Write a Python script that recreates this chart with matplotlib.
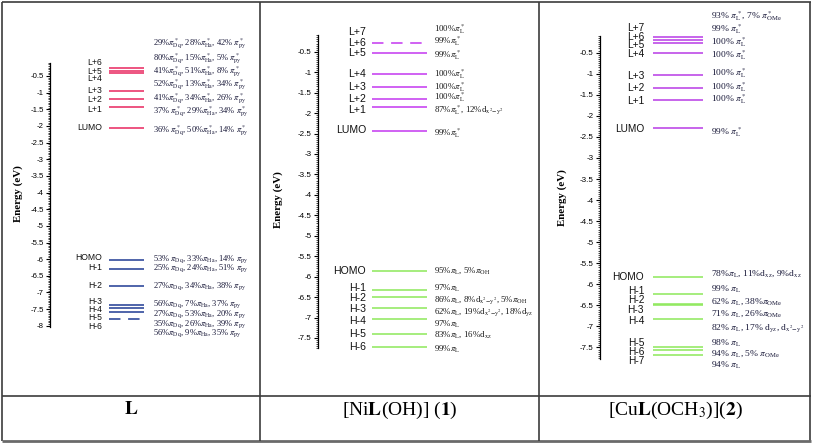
import matplotlib
matplotlib.use("Agg")
import matplotlib.pyplot as plt
from matplotlib.lines import Line2D
from matplotlib.ticker import FixedLocator, FixedFormatter
import numpy as np

plt.rcParams["font.family"] = "sans-serif"
plt.rcParams["font.sans-serif"] = ["Liberation Sans"]
plt.rcParams["mathtext.fontset"] = "stix"

# ---------------- data ----------------
# Ligand L
L_up_names = ["LUMO", "L+1", "L+2", "L+3", "L+4", "L+5", "L+6"]
L_up_E = [-2.05, -1.44, -1.20, -0.94, -0.41, -0.35, -0.27]
L_lo_names = ["HOMO", "H-1", "H-2", "H-3", "H-4", "H-5", "H-6"]
L_lo_E = [-6.03, -6.29, -6.81, -7.37, -7.47, -7.59, -7.79]
L_up_comp = [
    r"36% $\pi^*_{\rm Dq}$, 50%$\pi^*_{\rm Ha}$, 14% $\pi^*_{\rm py}$",
    r"37% $\pi^*_{\rm Dq}$, 29%$\pi^*_{\rm Ha}$, 34% $\pi^*_{\rm py}$",
    r"41%$\pi^*_{\rm Dq}$, 34%$\pi^*_{\rm Ha}$, 26% $\pi^*_{\rm py}$",
    r"52%$\pi^*_{\rm Dq}$, 13%$\pi^*_{\rm Ha}$, 34% $\pi^*_{\rm py}$",
    r"41%$\pi^*_{\rm Dq}$, 51%$\pi^*_{\rm Ha}$, 8% $\pi^*_{\rm py}$",
    r"80%$\pi^*_{\rm Dq}$, 15%$\pi^*_{\rm Ha}$, 5% $\pi^*_{\rm py}$",
    r"29%$\pi^*_{\rm Dq}$, 28%$\pi^*_{\rm Ha}$, 42% $\pi^*_{\rm py}$",
]
L_lo_comp = [
    r"53% $\pi_{\rm Dq}$, 33%$\pi_{\rm Ha}$, 14% $\pi_{\rm py}$",
    r"25% $\pi_{\rm Dq}$, 24%$\pi_{\rm Ha}$, 51% $\pi_{\rm py}$",
    r"27%$\pi_{\rm Dq}$, 34%$\pi_{\rm Ha}$, 38% $\pi_{\rm py}$",
    r"56%$\pi_{\rm Dq}$, 7%$\pi_{\rm Ha}$, 37% $\pi_{\rm py}$",
    r"27%$\pi_{\rm Dq}$, 53%$\pi_{\rm Ha}$, 20% $\pi_{\rm py}$",
    r"35%$\pi_{\rm Dq}$, 26%$\pi_{\rm Ha}$, 39% $\pi_{\rm py}$",
    r"56%$\pi_{\rm Dq}$, 9%$\pi_{\rm Ha}$, 35% $\pi_{\rm py}$",
]

# [NiL(OH)] (1)
Ni_up_names = ["LUMO", "L+1", "L+2", "L+3", "L+4", "L+5", "L+6", "L+7"]
Ni_up_E = [-2.43, -1.85, -1.66, -1.37, -1.05, -0.52, -0.28, None]
Ni_lo_names = ["HOMO", "H-1", "H-2", "H-3", "H-4", "H-5", "H-6"]
Ni_lo_E = [-5.85, -6.33, -6.49, -6.77, -7.04, -7.39, -7.71]
Ni_up_comp = [
    r"99%$\pi_{\rm L}^*$",
    r"87%$\pi_{\rm L}^*$, 12%d$_{\rm x^2\!-\!y^2}$",
    r"100%$\pi_{\rm L}^*$",
    r"100%$\pi_{\rm L}^*$",
    r"100%$\pi_{\rm L}^*$",
    r"99%$\pi_{\rm L}^*$",
    r"99%$\pi_{\rm L}^*$",
    r"100%$\pi_{\rm L}^*$",
]
Ni_lo_comp = [
    r"95%$\pi_{\rm L}$, 5%$\pi_{\rm OH}$",
    r"97%$\pi_{\rm L}$",
    r"86%$\pi_{\rm L}$, 8%d$_{\rm x^2\!-\!y^2}$, 5%$\pi_{\rm OH}$",
    r"62%$\pi_{\rm L}$, 19%d$_{\rm x^2\!-\!y^2}$, 18%d$_{\rm yz}$",
    r"97%$\pi_{\rm L}$",
    r"83%$\pi_{\rm L}$, 16%d$_{\rm xz}$",
    r"99%$\pi_{\rm L}$",
]

# [CuL(OCH3)](2)
Cu_up_names = ["LUMO", "L+1", "L+2", "L+3", "L+4", "L+5", "L+6", "L+7"]
Cu_up_E = [-2.30, -1.62, -1.34, -1.04, -0.50, -0.27, -0.20, -0.12]
Cu_lo_names = ["HOMO", "H-1", "H-2", "H-3", "H-4", "H-5", "H-6", "H-7"]
Cu_lo_E = [-5.83, -6.22, -6.46, -6.50, -6.83, -7.48, -7.57, -7.69]
Cu_up_comp = [
    r"99% $\pi_{\rm L}^*$",
    r"100% $\pi_{\rm L}^*$",
    r"100% $\pi_{\rm L}^*$",
    r"100% $\pi_{\rm L}^*$",
    r"100% $\pi_{\rm L}^*$",
    r"100% $\pi_{\rm L}^*$",
    r"99% $\pi_{\rm L}^*$",
    r"93% $\pi_{\rm L}^*$, 7% $\pi^*_{\rm OMe}$",
]
Cu_lo_comp = [
    r"78%$\pi_{\rm L}$, 11%d$_{\rm xz}$, 9%d$_{\rm xz}$",
    r"99% $\pi_{\rm L}$",
    r"62% $\pi_{\rm L}$, 38%$\pi_{\rm OMe}$",
    r"71% $\pi_{\rm L}$, 26%$\pi_{\rm OMe}$",
    r"82% $\pi_{\rm L}$, 17% d$_{\rm yz}$, d$_{\rm x^2\!-\!y^2}$",
    r"98% $\pi_{\rm L}$",
    r"94% $\pi_{\rm L}$, 5% $\pi_{\rm OMe}$",
    r"94% $\pi_{\rm L}$",
]

titles = [r"$\mathbf{L}$", r"[Ni$\mathbf{L}$(OH)] ($\mathbf{1}$)",
          r"[Cu$\mathbf{L}$(OCH$_3$)]($\mathbf{2}$)"]

# ---------------- layout (label / text positions, eV) ----------------
L_up_lab = [-2.06, -1.52, -1.22, -0.94, -0.59, -0.35, -0.10]
L_lo_lab = [-5.96, -6.24, -6.78, -7.28, -7.52, -7.75, -8.02]
L_up_txt = [-2.15, -1.57, -1.17, -0.77, -0.37, 0.03, 0.48]
L_lo_txt = [-6.00, -6.28, -6.80, -7.36, -7.66, -7.95, -8.23]

Ni_up_lab = [-2.41, -1.93, -1.66, -1.36, -1.05, -0.53, -0.28, -0.01]
Ni_lo_lab = [-5.85, -6.27, -6.52, -6.79, -7.08, -7.40, -7.73]
Ni_up_txt = [-2.48, -1.93, -1.62, -1.36, -1.05, -0.58, -0.24, 0.055]
Ni_lo_txt = [-5.85, -6.28, -6.57, -6.86, -7.16, -7.43, -7.77]

Cu_up_lab = [-2.31, -1.64, -1.34, -1.05, -0.54, -0.32, -0.13, 0.08]
Cu_lo_lab = [-5.82, -6.15, -6.37, -6.61, -6.87, -7.40, -7.60, -7.82]
Cu_up_txt = [-2.38, -1.61, -1.32, -0.975, -0.55, -0.26, 0.056, 0.38]
Cu_lo_txt = [-5.76, -6.12, -6.41, -6.71, -7.05, -7.40, -7.66, -7.92]

W, H = 813, 443
fig = plt.figure(figsize=(W / 100, H / 100), dpi=100)
fig.patch.set_facecolor("white")

Y_TOP, Y_BOT = 4, 392

panels = [
    dict(spine=50, right=258, ref_y=76, ref_e=-0.5, scale=33.3, bounds=(-8.03, -0.10),
         major=np.arange(-8, -0.49, 0.5), lx=(109, 144), lab_x=102, txt_x=153,
         fs_lab=6.2, fs_tick=5.6, fs_txt=6.1, up_col="#e8265e", lo_col="#1f3a93",
         up=(L_up_names, L_up_E, L_up_lab, L_up_comp, L_up_txt),
         lo=(L_lo_names, L_lo_E, L_lo_lab, L_lo_comp, L_lo_txt),
         dashed_up=[], dashed_lo=[6], ylab=(18, 194), title_x=131, txt_col="#1a1a3a"),
    dict(spine=318, right=538, ref_y=51.7, ref_e=-0.5, scale=40.9, bounds=(-7.75, -0.09),
         major=np.arange(-7.5, -0.49, 0.5), lx=(372, 427), lab_x=366, txt_x=434,
         fs_lab=7.6, fs_tick=5.8, fs_txt=6.4, up_col="#c437f0", lo_col="#8de85a",
         up=(Ni_up_names, Ni_up_E, Ni_up_lab, Ni_up_comp, Ni_up_txt),
         lo=(Ni_lo_names, Ni_lo_E, Ni_lo_lab, Ni_lo_comp, Ni_lo_txt),
         dashed_up=[6], dashed_lo=[], ylab=(278, 200), title_x=400, txt_col="#1a1a1a"),
    dict(spine=600, right=808, ref_y=52.7, ref_e=-0.5, scale=42.1, bounds=(-7.78, -0.10),
         major=np.arange(-7.5, -0.49, 0.5), lx=(653, 703), lab_x=644, txt_x=711,
         fs_lab=7.3, fs_tick=5.8, fs_txt=6.8, up_col="#b83be6", lo_col="#8de85a",
         up=(Cu_up_names, Cu_up_E, Cu_up_lab, Cu_up_comp, Cu_up_txt),
         lo=(Cu_lo_names, Cu_lo_E, Cu_lo_lab, Cu_lo_comp, Cu_lo_txt),
         dashed_up=[], dashed_lo=[], ylab=(562, 198), title_x=675, txt_col="#1a1a3a"),
]

for i, p in enumerate(panels):
    e_top = p["ref_e"] + (p["ref_y"] - Y_TOP) / p["scale"]
    e_bot = p["ref_e"] - (Y_BOT - p["ref_y"]) / p["scale"]
    ax = fig.add_axes([p["spine"] / W, 1 - Y_BOT / H, (p["right"] - p["spine"]) / W,
                       (Y_BOT - Y_TOP) / H])
    ax.set_xlim(p["spine"], p["right"])
    ax.set_ylim(e_bot, e_top)
    ax.patch.set_alpha(0)
    for s in ["top", "right", "bottom"]:
        ax.spines[s].set_visible(False)
    ax.spines["left"].set_bounds(*p["bounds"])
    ax.spines["left"].set_linewidth(0.9)
    ax.set_xticks([])
    major = p["major"]
    ax.yaxis.set_major_locator(FixedLocator(major))
    ax.yaxis.set_major_formatter(FixedFormatter([f"{v:g}" for v in major]))
    lo_b, hi_b = p["bounds"]
    minor = np.arange(np.ceil(lo_b / 0.05) * 0.05, hi_b + 1e-9, 0.05)
    ax.yaxis.set_minor_locator(FixedLocator(minor))
    ax.tick_params(axis="y", which="major", length=3.0, width=0.8, labelsize=p["fs_tick"], pad=1.5)
    ax.tick_params(axis="y", which="minor", length=1.8, width=0.5)

    for key, col, dashed in [("up", p["up_col"], p["dashed_up"]), ("lo", p["lo_col"], p["dashed_lo"])]:
        names, energies, labs, comps, txts = p[key]
        for j, (n, e, ly, c, ty) in enumerate(zip(names, energies, labs, comps, txts)):
            if e is not None:
                if j in dashed:
                    ax.plot(p["lx"], [e, e], color=col, lw=1.1, dashes=(7.5, 5.0), solid_capstyle="butt")
                else:
                    ax.plot(p["lx"], [e, e], color=col, lw=1.1, solid_capstyle="butt")
            ax.text(p["lab_x"], ly, n, fontsize=p["fs_lab"], ha="right", va="center",
                    color="#111111", clip_on=False)
            ax.text(p["txt_x"], ty, c, fontsize=p["fs_txt"], ha="left", va="center",
                    family="Liberation Serif", color=p["txt_col"], clip_on=False)

    fig.text(p["ylab"][0] / W, 1 - p["ylab"][1] / H, "Energy (eV)", rotation=90,
             ha="center", va="center", fontsize=7.8, fontweight="bold", family="Liberation Serif")
    fig.text(p["title_x"] / W, 1 - 410 / H, titles[i], ha="center", va="center",
             fontsize=14, family="Liberation Serif")

# table lines
def fline(x0, y0, x1, y1, lw=1.2, col="#3c3c3c"):
    fig.add_artist(Line2D([x0 / W, x1 / W], [1 - y0 / H, 1 - y1 / H], transform=fig.transFigure,
                          color=col, lw=lw, solid_capstyle="butt"))

fline(2, 2, 811, 2)
fline(2, 2, 2, 441)
fline(810, 2, 810, 441)
fline(2, 441, 811, 441, lw=2.0, col="#6a6a6a")
fline(260, 2, 260, 441)
fline(539, 2, 539, 441)
fline(2, 396, 811, 396)

fig.savefig("out.png", dpi=100)
